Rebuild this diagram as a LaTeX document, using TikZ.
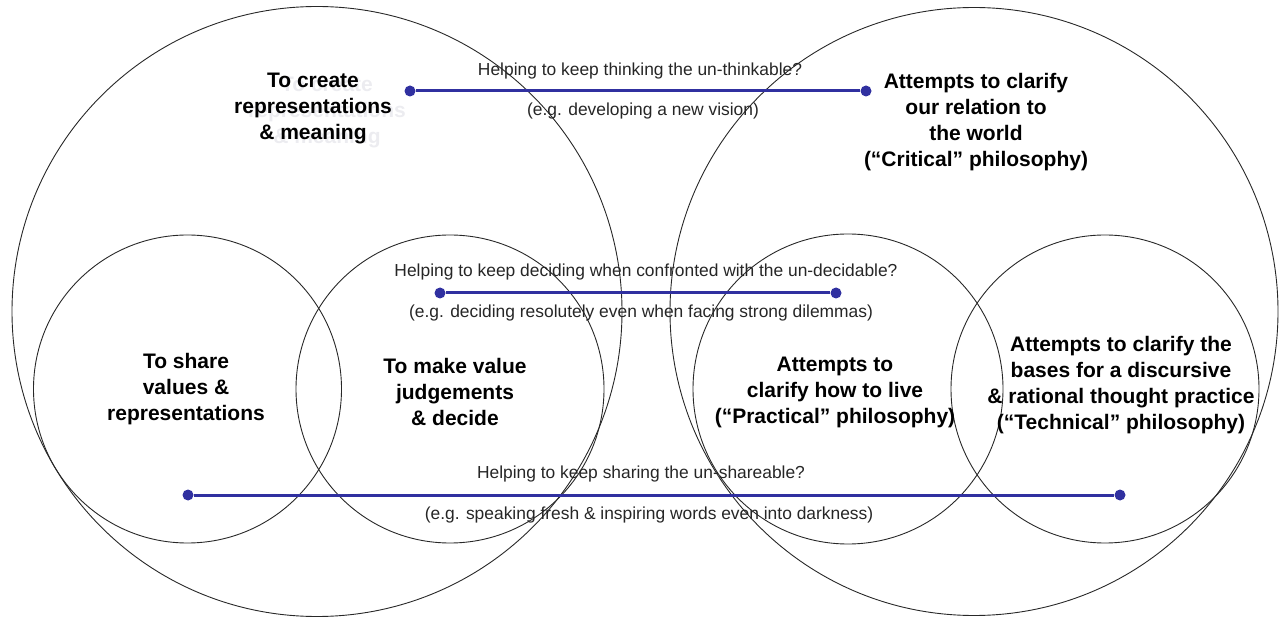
\documentclass[tikz,border=0pt]{standalone}
\usepackage{fontspec}
\setmainfont{Liberation Sans}
\definecolor{linkblue}{RGB}{48,48,160}
\definecolor{ringgray}{RGB}{40,40,40}
\definecolor{ghostgray}{RGB}{236,236,240}
\begin{document}
\begin{tikzpicture}[x=1pt,y=-1pt,
  ring/.style={circle,draw=ringgray,line width=0.9pt,inner sep=0pt},
  title/.style={align=center,font=\fontsize{21}{26}\selectfont\bfseries,inner sep=0pt},
  note/.style={font=\fontsize{17.4}{20}\selectfont,text=black!85,inner sep=0pt},
  dot/.style={circle,fill=linkblue,inner sep=0pt,minimum size=11pt},
  link/.style={draw=linkblue,line width=3pt}]
\useasboundingbox (0,0) rectangle (1280,617);

% the two large circles and the four inner ones
\node[ring,minimum size=610pt] (bigL) at (317,311.5) {};
\node[ring,minimum size=608pt] (bigR) at (974,311.5) {};
\node[ring,minimum size=308pt] (share) at (187.5,389) {};
\node[ring,minimum size=308pt] (judge) at (450,389) {};
\node[ring,minimum size=310pt] (live) at (848,389) {};
\node[ring,minimum size=308pt] (tech) at (1105,389) {};

% circle titles
\node[title,text=ghostgray] (createghost) at (327,113) {To create\\representations\\\& meaning};
\node[title] (create) at (313,109) {To create\\representations\\\& meaning};
\node[title] (sharet) at (186,389) {To share\\values \&\\representations};
\node[title] (judget) at (455,391.5) {To make value\\judgements\\\& decide};
\node[title] (critical) at (976,122) {Attempts to clarify\\our relation to\\the world\\(“Critical” philosophy)};
\node[title] (practical) at (835,392) {Attempts to\\clarify how to live\\(“Practical” philosophy)};
\node[title] (technical) at (1121,385) {Attempts to clarify the\\bases for a discursive\\\& rational thought practice\\(“Technical” philosophy)};

% bridges between the two sides
\node[dot] (t1) at (410,91) {};
\node[dot] (t2) at (866,91) {};
\node[dot] (m1) at (440,293) {};
\node[dot] (m2) at (836,293) {};
\node[dot] (b1) at (188,495) {};
\node[dot] (b2) at (1120,495) {};
\draw[link] (t1) -- (t2);
\draw[link] (m1) -- (m2);
\draw[link] (b1) -- (b2);

\node[note] (tq) at (640,71) {Helping to keep thinking the un-thinkable?};
\node[note] (te) at (643,111) {(e.g. developing a new vision)};
\node[note] (mq) at (646,272) {Helping to keep deciding when confronted with the un-decidable?};
\node[note] (me) at (641,313) {(e.g. deciding resolutely even when facing strong dilemmas)};
\node[note] (bq) at (641,474) {Helping to keep sharing the un-shareable?};
\node[note] (be) at (649,515) {(e.g. speaking fresh \& inspiring words even into darkness)};
\end{tikzpicture}
\end{document}
